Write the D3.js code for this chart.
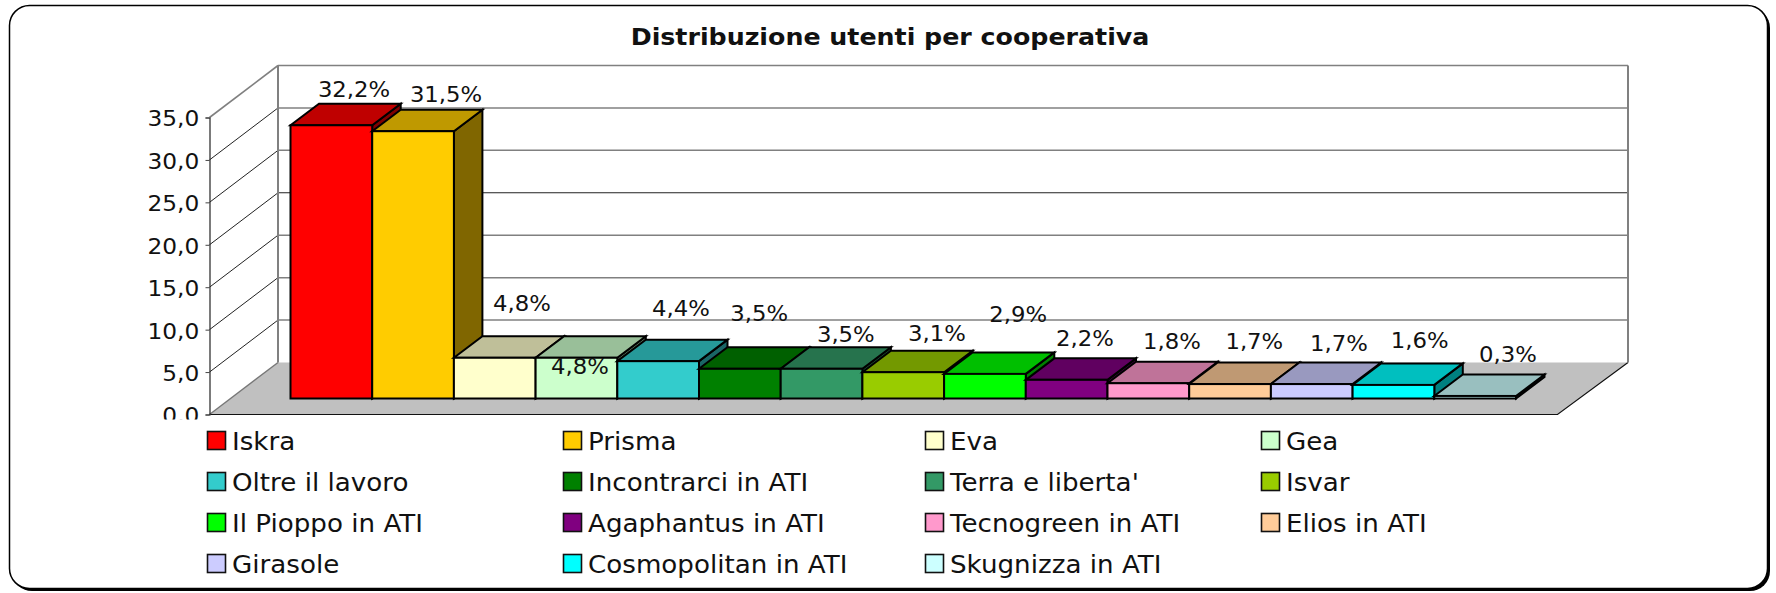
<!DOCTYPE html>
<html><head><meta charset="utf-8">
<script src="https://cdn.jsdelivr.net/npm/d3@7"></script>
<style>html,body{margin:0;padding:0;background:#fff}svg{display:block}text{font-family:"DejaVu Sans",sans-serif;fill:#111}</style>
</head><body><svg id="c" width="1776" height="593"></svg>
<script>
const categories=["Iskra","Prisma","Eva","Gea","Oltre il lavoro","Incontrarci in ATI","Terra e liberta'","Isvar","Il Pioppo in ATI","Agaphantus in ATI","Tecnogreen in ATI","Elios in ATI","Girasole","Cosmopolitan in ATI","Skugnizza in ATI"];
const values=[32.2,31.5,4.8,4.8,4.4,3.5,3.5,3.1,2.9,2.2,1.8,1.7,1.7,1.6,0.3];
const valueLabels=["32,2%","31,5%","4,8%","4,8%","4,4%","3,5%","3,5%","3,1%","2,9%","2,2%","1,8%","1,7%","1,7%","1,6%","0,3%"];
const frontColors=["#ff0000","#ffcc00","#ffffcc","#ccffcc","#33cccc","#008000","#339966","#99cc00","#00ff00","#800080","#ff99cc","#ffcc99","#ccccff","#00ffff","#ccffff"];
const yTicks=[0,5,10,15,20,25,30,35];
const titleText="Distribuzione utenti per cooperativa";

// drawing layout
const svg=d3.select("#c");
const W=1776,H=593;
const wall={x0:209.5,x1:1557.5,dx:68.5,floorFront:414.5,floorBack:362.5};
const yAxis=d3.scaleLinear().domain([0,35]).range([wall.floorFront,117.5]);
const unit=yAxis(0)-yAxis(1);
const x=d3.scaleBand().domain(categories).range([290.5,1516]).padding(0);
const barBase=398.5,barDx=28.5,barDy=21.5;
const barY=v=>barBase-v*unit;
// hand nudges of the value labels relative to each bar's top-back centre
const labelNudge=[[8.4,-7],[18.7,-8],[13,-25],[-10.7,38],[8.6,-24],[5,-26],[10,-5],[19.5,-10],[19,-30.5],[4,-12.5],[9.4,-13],[10,-14],[13,-12],[12,-15],[18.6,-12]];

svg.append("rect").attr("width",W).attr("height",H).attr("fill","#fff");
// frame with shadow
svg.append("rect").attr("x",12).attr("y",8).attr("width",1758).attr("height",583).attr("rx",20).attr("fill","#000");
svg.append("rect").attr("x",9.5).attr("y",5.5).attr("width",1758).attr("height",583).attr("rx",20).attr("fill","#fff").attr("stroke","#000").attr("stroke-width",1.5);

// title
svg.append("text").attr("text-anchor","middle").attr("transform","translate(890,45) scale(1.1,1)")
 .attr("font-size",23).attr("font-weight","bold").attr("fill","#000").text(titleText);

const clip=svg.append("defs").append("clipPath").attr("id","plotClip");
clip.append("rect").attr("x",100).attr("y",50).attr("width",1600).attr("height",369.5);
const g=svg.append("g").attr("clip-path","url(#plotClip)");

// floor and walls
const line=d3.line();
g.append("path").attr("d",line([[wall.x0,wall.floorFront],[wall.x0+wall.dx,wall.floorBack],[wall.x1+wall.dx+2,wall.floorBack],[wall.x1,wall.floorFront]])+"Z").attr("fill","#c0c0c0").attr("stroke","none");
g.append("path").attr("d",line([[wall.x0,wall.floorFront],[wall.x1,wall.floorFront],[wall.x1+wall.dx+2,wall.floorBack]])).attr("fill","none").attr("stroke","#111").attr("stroke-width",1.2);
g.append("path").attr("d",line([[wall.x0,wall.floorFront],[wall.x0+wall.dx,wall.floorBack]])).attr("fill","none").attr("stroke","#777").attr("stroke-width",1.4);

yTicks.forEach(t=>{
  const yf=yAxis(t), yb=yf-(wall.floorFront-wall.floorBack);
  if(t>0){
    g.append("path").attr("d",line([[wall.x0,yf],[wall.x0+wall.dx,yb]])).attr("fill","none").attr("stroke",t===35?"#808080":"#222").attr("stroke-width",t===35?1.6:1);
    g.append("path").attr("d",line([[wall.x0+wall.dx,yb],[wall.x1+wall.dx+2,yb]])).attr("fill","none").attr("stroke",t===20?"#222":"#808080").attr("stroke-width",t===20?1.1:1.5);
  }
});
g.append("path").attr("d",line([[wall.x0+wall.dx,yAxis(35)-52],[wall.x0+wall.dx,wall.floorBack]])).attr("fill","none").attr("stroke","#808080").attr("stroke-width",2);
g.append("path").attr("d",line([[wall.x1+wall.dx+2,yAxis(35)-52],[wall.x1+wall.dx+2,wall.floorBack]])).attr("fill","none").attr("stroke","#808080").attr("stroke-width",2);

// axis
const ax=g.append("g").attr("transform",`translate(${wall.x0},0)`)
 .call(d3.axisLeft(yAxis).tickValues(yTicks).tickSize(4).tickPadding(7).tickFormat(d=>d3.format(".1f")(d).replace(".",",")));
ax.select(".domain").attr("stroke","#222").attr("stroke-width",1.2);
ax.selectAll(".tick line").attr("stroke","#444");
ax.selectAll(".tick text").attr("font-size",20.5).attr("font-family",'"DejaVu Sans",sans-serif').attr("fill","#111")
  .attr("y",1.5).attr("dy","0.34em").attr("transform","scale(1.135,1)").attr("x",-9);

// bars, painted left to right
const shade=(c,k)=>{const r=d3.rgb(c);return d3.rgb(r.r*k,r.g*k,r.b*k).formatHex();};
const bars=g.selectAll("g.bar").data(categories).join("g").attr("class","bar");
bars.each(function(c,i){
  const b=d3.select(this),x0=x(c),x1=x0+x.bandwidth(),yt=barY(values[i]);
  const col=frontColors[i];
  const st=s=>s.attr("stroke","#000").attr("stroke-width",2).attr("stroke-linejoin","miter");
  st(b.append("path").attr("d",line([[x1,yt],[x1+barDx,yt-barDy],[x1+barDx,barBase-barDy],[x1,barBase]])+"Z").attr("fill",shade(col,.5)));
  st(b.append("path").attr("d",line([[x0,yt],[x0+barDx,yt-barDy],[x1+barDx,yt-barDy],[x1,yt]])+"Z").attr("fill",shade(col,.75)));
  st(b.append("rect").attr("x",x0).attr("y",yt).attr("width",x.bandwidth()).attr("height",barBase-yt).attr("fill",col));
});
// value labels
g.selectAll("text.val").data(valueLabels).join("text").attr("class","val")
 .attr("text-anchor","middle").attr("font-size",20.5)
 .attr("transform",(d,i)=>{const c=categories[i];
   return `translate(${x(c)+x.bandwidth()/2+barDx/2+labelNudge[i][0]},${barY(values[i])-barDy+labelNudge[i][1]}) scale(1.11,1)`;})
 .text(d=>d);

// legend
const legendCols=[207,563,925,1261],legendRow=d3.scaleLinear().domain([0,3]).range([431,554]);
const leg=svg.selectAll("g.leg").data(categories).join("g").attr("class","leg")
 .attr("transform",(d,i)=>`translate(${legendCols[i%4]},${legendRow(Math.floor(i/4))})`);
leg.append("rect").attr("x",.5).attr("y",.5).attr("width",18).attr("height",18).attr("fill",(d,i)=>frontColors[i]).attr("stroke","#111").attr("stroke-width",1.6);
leg.append("text").attr("transform","translate(25,18.5) scale(1.09,1)").attr("font-size",24).text(d=>d);
</script></body></html>
